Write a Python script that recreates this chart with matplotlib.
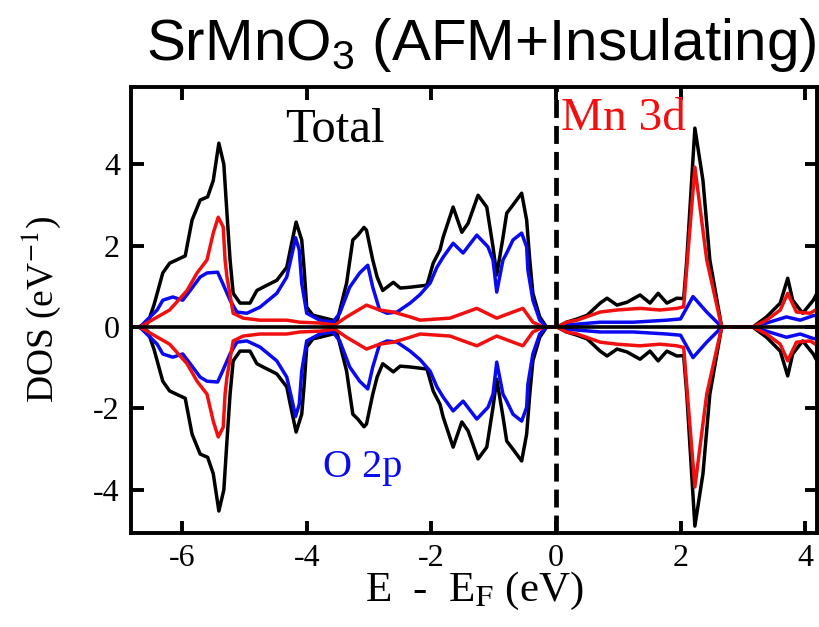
import matplotlib
matplotlib.use("Agg")
import matplotlib.pyplot as plt
import numpy as np

plt.rcParams['axes.unicode_minus'] = False
plt.rcParams['mathtext.fontset'] = 'custom'
plt.rcParams['mathtext.rm'] = 'Liberation Sans'
plt.rcParams['mathtext.it'] = 'Liberation Sans:italic'

# ---- data (spin-up DOS; spin-down drawn as mirror) ----
E_total = [-6.68, -6.55, -6.45, -6.31, -6.2, -5.95, -5.84, -5.71, -5.59, -5.5, -5.41, -5.33, -5.28,
           -5.23, -5.18, -5.07, -4.91, -4.8, -4.7, -4.48, -4.32, -4.25, -4.17, -4.08, -4.04, -4.0,
           -3.9, -3.79, -3.58, -3.52, -3.36, -3.26, -3.18, -3.08, -3.04, -2.94, -2.87, -2.78, -2.61,
           -2.5, -2.34, -2.07, -1.97, -1.86, -1.81, -1.65, -1.51, -1.41, -1.25, -1.11, -1.01, -0.95,
           -0.85, -0.79, -0.69, -0.55, -0.47, -0.42, -0.37, -0.26, -0.15,
           0.02, 0.17, 0.34, 0.5, 0.71, 0.82, 0.98, 1.14, 1.35, 1.51, 1.64, 1.78, 1.94, 2.05, 2.1,
           2.23, 2.36, 2.47, 2.66, 3.16, 3.38, 3.6, 3.72, 3.8, 3.96, 4.13, 4.25]
DOS_total = [0.0, 0.1, 0.55, 1.33, 1.57, 1.75, 2.63, 3.12, 3.2, 3.6, 4.52, 4.0, 2.8,
             1.65, 0.83, 0.59, 0.59, 0.9, 0.98, 1.15, 1.47, 2.0, 2.58, 2.14, 1.4, 0.49,
             0.29, 0.25, 0.17, 0.1, 1.08, 2.14, 2.26, 2.45, 2.38, 1.65, 1.23, 0.9, 1.1,
             0.96, 0.98, 1.03, 1.57, 1.9, 2.21, 2.95, 2.33, 2.55, 3.24, 2.95, 1.97, 1.28,
             2.2, 2.8, 3.0, 3.29, 2.63, 1.65, 0.83, 0.25, 0.0,
             0.0, 0.12, 0.2, 0.29, 0.59, 0.71, 0.54, 0.61, 0.79, 0.59, 0.83, 0.59, 0.71, 0.7, 1.65,
             4.89, 3.6, 1.65, 0.0, 0.0, 0.25, 0.59, 1.2, 0.66, 0.34, 0.66, 1.0]

E_O2p = [-6.68, -6.4, -6.31, -6.15, -5.99, -5.87, -5.71, -5.6, -5.43, -5.35, -5.23, -5.12, -4.96,
         -4.75, -4.48, -4.32, -4.22, -4.18, -4.12, -4.08, -4.0, -3.79, -3.58, -3.47, -3.31, -3.15,
         -3.02, -2.94, -2.83, -2.71, -2.55, -2.34, -2.18, -2.02, -1.91, -1.81, -1.65, -1.49, -1.27,
         -1.09, -1.01, -0.95, -0.85, -0.79, -0.69, -0.55, -0.47, -0.45, -0.37, -0.26, -0.15,
         0.02, 0.17, 0.71, 1.24, 1.78, 2.0, 2.2, 2.42, 2.63, 2.66, 3.16, 3.38, 3.7, 3.92, 4.13, 4.25]
DOS_O2p = [0.0, 0.42, 0.66, 0.74, 0.66, 0.9, 1.23, 1.33, 1.35, 1.08, 0.66, 0.37, 0.34,
           0.49, 0.83, 1.23, 1.9, 2.2, 1.9, 1.08, 0.34, 0.17, 0.12, 0.34, 0.98, 1.33,
           1.52, 0.98, 0.42, 0.34, 0.37, 0.59, 0.8, 1.08, 1.47, 1.72, 2.06, 1.82, 2.26,
           1.97, 1.65, 0.86, 1.65, 1.82, 2.14, 2.31, 1.97, 1.4, 0.66, 0.17, 0.0,
           0.0, 0.05, 0.12, 0.12, 0.17, 0.2, 0.75, 0.37, 0.05, 0.0, 0.0, 0.1, 0.25, 0.17, 0.28, 0.3]

E_Mn3d = [-6.68, -6.2, -5.92, -5.76, -5.6, -5.5, -5.42, -5.34, -5.31, -5.28, -5.18, -5.02, -4.75,
          -4.32, -4.11, -3.79, -3.55, -3.36, -3.04, -2.83, -2.61, -2.34, -2.18, -1.7, -1.27, -0.95,
          -0.69, -0.53, -0.37, -0.2,
          0.02, 0.17, 0.34, 0.71, 0.98, 1.35, 1.67, 1.94, 2.05, 2.23, 2.42, 2.66, 3.16, 3.38, 3.6,
          3.72, 3.86, 4.08, 4.25]
DOS_Mn3d = [0.0, 0.42, 0.9, 1.33, 1.65, 2.31, 2.7, 2.46, 1.65, 1.23, 0.34, 0.22, 0.17,
            0.17, 0.12, 0.1, 0.05, 0.25, 0.54, 0.42, 0.37, 0.25, 0.17, 0.22, 0.46, 0.22,
            0.37, 0.46, 0.12, 0.0,
            0.0, 0.12, 0.17, 0.37, 0.42, 0.46, 0.42, 0.46, 0.5, 3.93, 1.65, 0.0, 0.0, 0.17, 0.42,
            0.83, 0.37, 0.34, 0.5]

x_ticks = [-6, -4, -2, 0, 2, 4]
y_ticks = [-4, -2, 0, 2, 4]

serif = 'Liberation Serif'
BLUE = '#0a0af0'
RED = '#f01010'

fig = plt.figure(figsize=(8.2, 6.27), dpi=100)
ax = fig.add_axes([131/820, 1-533/627, (817-131)/820, (533-87)/627])

lw = 2.5
ax.plot(E_total, DOS_total, color='black', lw=lw)
ax.plot(E_total, -np.array(DOS_total), color='black', lw=lw)
ax.plot(E_O2p, DOS_O2p, color=BLUE, lw=lw)
ax.plot(E_O2p, -np.array(DOS_O2p), color=BLUE, lw=lw)
ax.plot(E_Mn3d, DOS_Mn3d, color=RED, lw=lw)
ax.plot(E_Mn3d, -np.array(DOS_Mn3d), color=RED, lw=lw)

ax.axhline(0, color='black', lw=2.6)
ax.axvline(0, color='black', lw=3.4, ls=(0, (3.8, 1.7)))

ax.set_xlim(-6.82, 4.19)
ax.set_ylim(-5.06, 5.9)
ax.set_xticks(x_ticks)
ax.set_yticks(y_ticks)
ax.set_xticklabels([str(v) for v in x_ticks], fontfamily=serif, fontsize=23)
ax.set_yticklabels([str(v) for v in y_ticks], fontfamily=serif, fontsize=23)
ax.tick_params(direction='in', length=9, width=2.8, top=True, right=True)
ax.tick_params(axis='x', pad=8)
ax.tick_params(axis='y', pad=8)
for s in ax.spines.values():
    s.set_linewidth(2.8)

ax.set_xlabel(r'E  -  E$_\mathrm{F}$ (eV)', fontfamily=serif, fontsize=31,
              math_fontfamily='stix', labelpad=-2)
ax.set_ylabel(r'DOS (eV$^{-1}$)', fontfamily=serif, fontsize=27,
              math_fontfamily='stix', labelpad=22)

ax.text(-3.55, 4.84, 'Total', fontfamily=serif, fontsize=35, color='black',
        ha='center', va='center')
ax.text(1.08, 5.13, 'Mn 3d', fontfamily=serif, fontsize=34, color=RED,
        ha='center', va='center')
ax.text(-3.1, -3.46, 'O 2p', fontfamily=serif, fontsize=29, color=BLUE,
        ha='center', va='center')

fig.text(0.587, 0.905, r'SrMnO$_3$ (AFM+Insulating)', fontfamily='Liberation Sans',
         fontsize=42, ha='center', va='baseline', math_fontfamily='custom')

fig.savefig('out.png', dpi=100)
